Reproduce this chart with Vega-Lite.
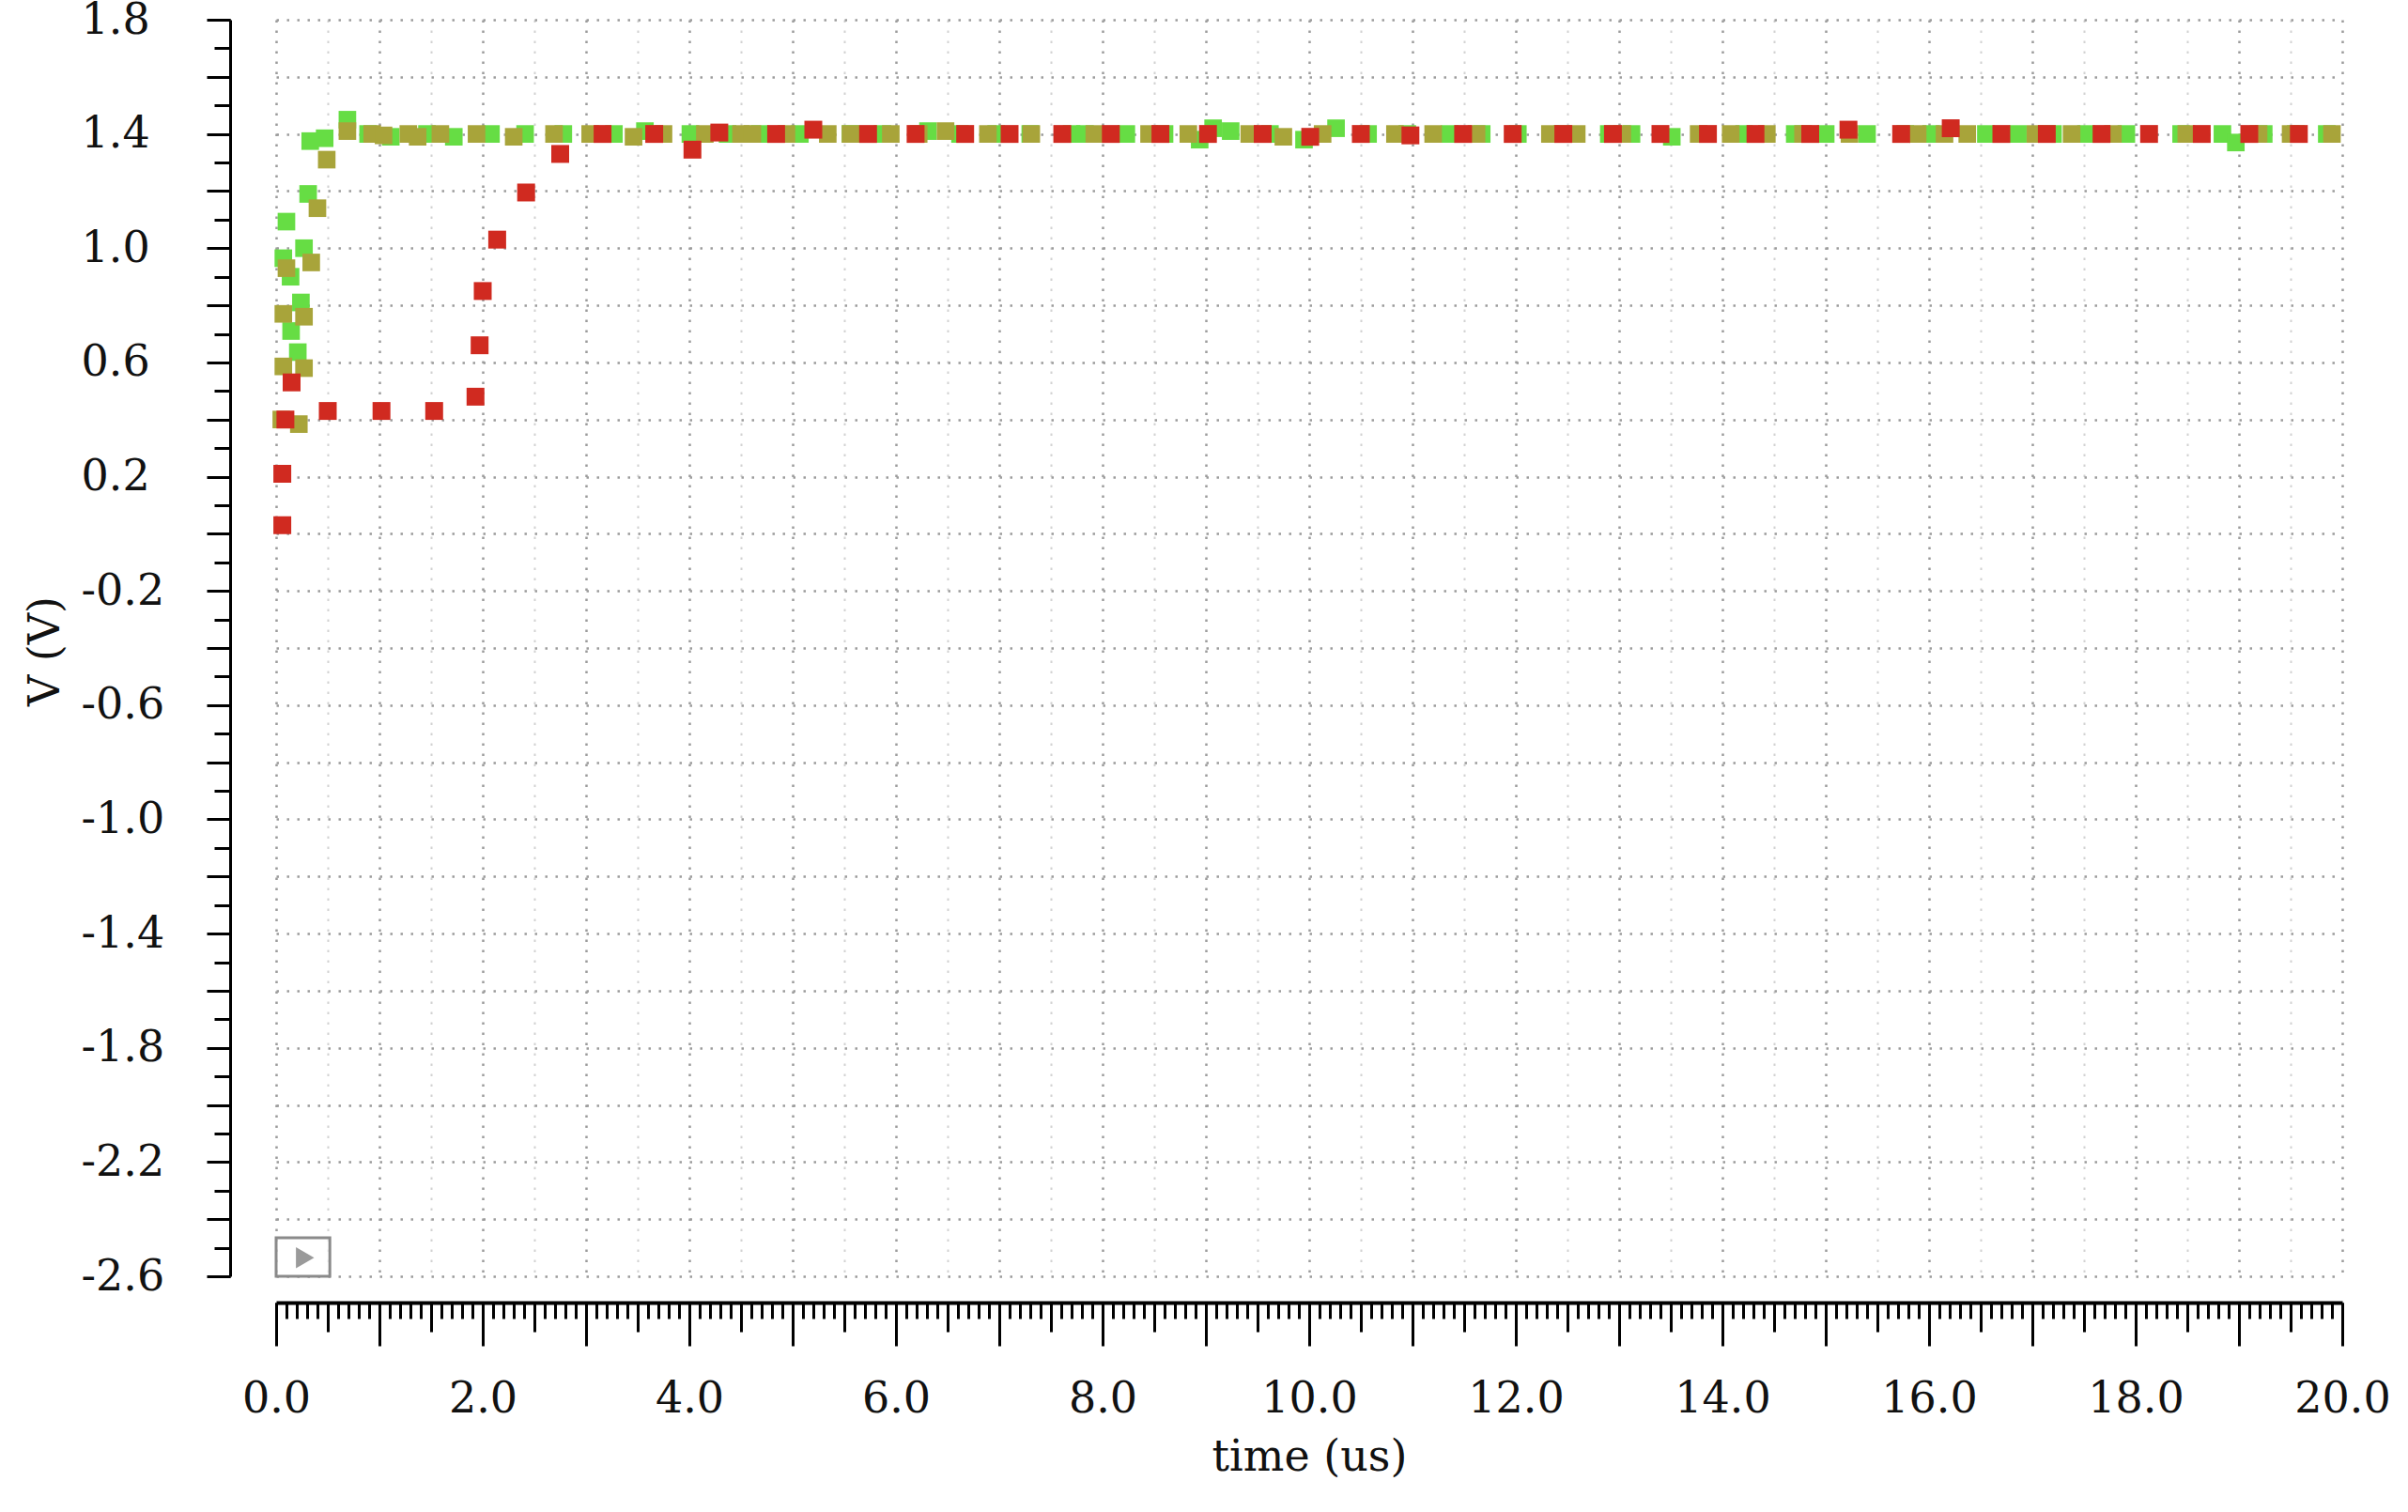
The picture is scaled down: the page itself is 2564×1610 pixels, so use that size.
{
  "$schema": "https://vega.github.io/schema/vega-lite/v6.json",
  "autosize": {"type": "none"},
  "padding": {"left": 294, "top": 21, "right": 70, "bottom": 251},
  "width": 2200,
  "height": 1338,
  "background": "white",
  "config": {
    "view": {"stroke": null},
    "axis": {
      "labelFont": "DejaVu Serif",
      "titleFont": "DejaVu Serif",
      "labelColor": "#111111",
      "titleColor": "#111111",
      "labelFontSize": 46,
      "titleFontSize": 46,
      "titleFontWeight": "normal",
      "tickColor": "#000000",
      "domainColor": "#000000",
      "labelOverlap": false,
      "labelFlush": false
    }
  },
  "datasets": {
    "green": [
      {"t": 0.07, "v": 0.965}, {"t": 0.10, "v": 1.093}, {"t": 0.14, "v": 0.90}, {"t": 0.145, "v": 0.71},
      {"t": 0.21, "v": 0.636}, {"t": 0.24, "v": 0.81}, {"t": 0.27, "v": 1.0}, {"t": 0.31, "v": 1.19},
      {"t": 0.33, "v": 1.375}, {"t": 0.47, "v": 1.385}, {"t": 0.69, "v": 1.45}, {"t": 0.89, "v": 1.40},
      {"t": 1.11, "v": 1.39}, {"t": 1.46, "v": 1.40}, {"t": 1.72, "v": 1.39}, {"t": 2.08, "v": 1.40},
      {"t": 2.41, "v": 1.40}, {"t": 2.78, "v": 1.40}, {"t": 3.27, "v": 1.40}, {"t": 3.57, "v": 1.41},
      {"t": 4.01, "v": 1.40}, {"t": 4.37, "v": 1.40}, {"t": 4.68, "v": 1.40}, {"t": 5.07, "v": 1.40},
      {"t": 5.56, "v": 1.40}, {"t": 5.87, "v": 1.40}, {"t": 6.31, "v": 1.41}, {"t": 6.62, "v": 1.40},
      {"t": 6.97, "v": 1.40}, {"t": 7.30, "v": 1.40}, {"t": 7.70, "v": 1.40}, {"t": 7.83, "v": 1.40},
      {"t": 8.23, "v": 1.40}, {"t": 8.60, "v": 1.40}, {"t": 8.94, "v": 1.38}, {"t": 9.07, "v": 1.42},
      {"t": 9.24, "v": 1.41}, {"t": 9.62, "v": 1.40}, {"t": 9.95, "v": 1.38}, {"t": 10.26, "v": 1.42},
      {"t": 10.57, "v": 1.40}, {"t": 10.95, "v": 1.40}, {"t": 11.36, "v": 1.40}, {"t": 11.67, "v": 1.40},
      {"t": 12.02, "v": 1.40}, {"t": 12.45, "v": 1.40}, {"t": 12.90, "v": 1.40}, {"t": 13.12, "v": 1.40},
      {"t": 13.51, "v": 1.39}, {"t": 14.21, "v": 1.40}, {"t": 14.70, "v": 1.40}, {"t": 15.00, "v": 1.40},
      {"t": 15.40, "v": 1.40}, {"t": 15.77, "v": 1.40}, {"t": 16.02, "v": 1.40}, {"t": 16.55, "v": 1.40},
      {"t": 16.86, "v": 1.40}, {"t": 17.20, "v": 1.40}, {"t": 17.52, "v": 1.40}, {"t": 17.91, "v": 1.40},
      {"t": 18.44, "v": 1.40}, {"t": 18.84, "v": 1.40}, {"t": 18.97, "v": 1.37}, {"t": 19.24, "v": 1.40},
      {"t": 19.55, "v": 1.40}, {"t": 19.85, "v": 1.40}
    ],
    "olive": [
      {"t": 0.05, "v": 0.40}, {"t": 0.22, "v": 0.384}, {"t": 0.07, "v": 0.586}, {"t": 0.27, "v": 0.58},
      {"t": 0.07, "v": 0.77}, {"t": 0.27, "v": 0.76}, {"t": 0.10, "v": 0.93}, {"t": 0.34, "v": 0.95},
      {"t": 0.40, "v": 1.14}, {"t": 0.49, "v": 1.31}, {"t": 0.69, "v": 1.41}, {"t": 0.93, "v": 1.40},
      {"t": 1.04, "v": 1.395}, {"t": 1.28, "v": 1.40}, {"t": 1.37, "v": 1.39}, {"t": 1.59, "v": 1.40},
      {"t": 1.94, "v": 1.40}, {"t": 2.30, "v": 1.39}, {"t": 2.69, "v": 1.40}, {"t": 3.04, "v": 1.40},
      {"t": 3.46, "v": 1.39}, {"t": 3.75, "v": 1.40}, {"t": 4.15, "v": 1.40}, {"t": 4.50, "v": 1.40},
      {"t": 4.61, "v": 1.40}, {"t": 4.94, "v": 1.40}, {"t": 5.34, "v": 1.40}, {"t": 5.56, "v": 1.40},
      {"t": 5.95, "v": 1.40}, {"t": 6.22, "v": 1.40}, {"t": 6.48, "v": 1.41}, {"t": 6.89, "v": 1.40},
      {"t": 7.31, "v": 1.40}, {"t": 7.92, "v": 1.40}, {"t": 8.45, "v": 1.40}, {"t": 8.83, "v": 1.40},
      {"t": 9.42, "v": 1.40}, {"t": 9.75, "v": 1.39}, {"t": 10.13, "v": 1.40}, {"t": 10.83, "v": 1.40},
      {"t": 11.20, "v": 1.40}, {"t": 11.62, "v": 1.40}, {"t": 12.33, "v": 1.40}, {"t": 12.59, "v": 1.40},
      {"t": 13.03, "v": 1.40}, {"t": 13.77, "v": 1.40}, {"t": 14.08, "v": 1.40}, {"t": 14.43, "v": 1.40},
      {"t": 14.78, "v": 1.40}, {"t": 15.23, "v": 1.40}, {"t": 15.89, "v": 1.40}, {"t": 16.15, "v": 1.40},
      {"t": 16.37, "v": 1.40}, {"t": 17.03, "v": 1.40}, {"t": 17.38, "v": 1.40}, {"t": 17.78, "v": 1.40},
      {"t": 18.49, "v": 1.40}, {"t": 19.19, "v": 1.40}, {"t": 19.50, "v": 1.40}, {"t": 19.90, "v": 1.40}
    ],
    "red": [
      {"t": 0.06, "v": 0.03}, {"t": 0.06, "v": 0.21}, {"t": 0.09, "v": 0.40}, {"t": 0.15, "v": 0.53},
      {"t": 0.50, "v": 0.43}, {"t": 1.02, "v": 0.43}, {"t": 1.53, "v": 0.43}, {"t": 1.93, "v": 0.48},
      {"t": 1.97, "v": 0.66}, {"t": 2.00, "v": 0.85}, {"t": 2.14, "v": 1.03}, {"t": 2.42, "v": 1.195},
      {"t": 2.75, "v": 1.33}, {"t": 3.16, "v": 1.40}, {"t": 3.66, "v": 1.40}, {"t": 4.03, "v": 1.345},
      {"t": 4.29, "v": 1.405}, {"t": 4.84, "v": 1.40}, {"t": 5.20, "v": 1.415}, {"t": 5.73, "v": 1.40},
      {"t": 6.19, "v": 1.40}, {"t": 6.67, "v": 1.40}, {"t": 7.10, "v": 1.40}, {"t": 7.61, "v": 1.40},
      {"t": 8.08, "v": 1.40}, {"t": 8.56, "v": 1.40}, {"t": 9.02, "v": 1.40}, {"t": 9.55, "v": 1.40},
      {"t": 10.01, "v": 1.39}, {"t": 10.50, "v": 1.40}, {"t": 10.98, "v": 1.395}, {"t": 11.49, "v": 1.40},
      {"t": 11.97, "v": 1.40}, {"t": 12.46, "v": 1.40}, {"t": 12.94, "v": 1.40}, {"t": 13.40, "v": 1.40},
      {"t": 13.86, "v": 1.40}, {"t": 14.32, "v": 1.40}, {"t": 14.85, "v": 1.40}, {"t": 15.22, "v": 1.415},
      {"t": 15.73, "v": 1.40}, {"t": 16.21, "v": 1.42}, {"t": 16.70, "v": 1.40}, {"t": 17.14, "v": 1.40},
      {"t": 17.67, "v": 1.40}, {"t": 18.13, "v": 1.40}, {"t": 18.64, "v": 1.40}, {"t": 19.10, "v": 1.40},
      {"t": 19.58, "v": 1.40}
    ]
  },
  "resolve": {"axis": {"x": "independent", "y": "independent"}},
  "layer": [
    {
      "data": {"name": "green"},
      "mark": {"type": "point", "shape": "square", "filled": true, "size": 350, "color": "#66dd44", "opacity": 1},
      "encoding": {
        "x": {
          "field": "t", "type": "quantitative",
          "scale": {"domain": [0, 20], "nice": false, "zero": false},
          "axis": {
            "orient": "bottom", "offset": 28,
            "values": [0,1,2,3,4,5,6,7,8,9,10,11,12,13,14,15,16,17,18,19,20],
            "tickSize": 46, "tickWidth": 3, "domainWidth": 4,
            "labelExpr": "datum.value % 2 == 0 ? format(datum.value, '.1f') : ''",
            "labelPadding": 70, "labelBaseline": "alphabetic",
            "grid": true, "gridColor": "#9c9c9c", "gridDash": [2.5, 8.5], "gridWidth": 2.5,
            "title": "time (us)", "titleX": 1100, "titleY": 178, "titleBaseline": "alphabetic", "titleAlign": "center"
          }
        },
        "y": {
          "field": "v", "type": "quantitative",
          "scale": {"domain": [-2.6, 1.8], "nice": false, "zero": false},
          "axis": {
            "orient": "left", "offset": 49,
            "values": [-2.6,-2.4,-2.2,-2.0,-1.8,-1.6,-1.4,-1.2,-1.0,-0.8,-0.6,-0.4,-0.2,0,0.2,0.4,0.6,0.8,1.0,1.2,1.4,1.6,1.8],
            "tickSize": 25, "tickWidth": 3, "domainWidth": 3,
            "labelExpr": "abs(round((datum.value + 2.6) * 10)) % 4 == 0 ? replace(format(datum.value, '.1f'), '\u2212', '-') : ''",
            "labelAlign": "left", "labelPadding": 134, "labelBaseline": "middle",
            "grid": true, "gridColor": "#9c9c9c", "gridDash": [2.5, 8.5], "gridWidth": 2.5,
            "title": "V (V)", "titleX": -183, "titleY": 672, "titleAngle": -90, "titleBaseline": "alphabetic", "titleAlign": "center"
          }
        }
      }
    },
    {
      "data": {"name": "olive"},
      "mark": {"type": "point", "shape": "square", "filled": true, "size": 350, "color": "#a8a43a", "opacity": 1},
      "encoding": {
        "x": {
          "field": "t", "type": "quantitative",
          "scale": {"domain": [0, 20], "nice": false, "zero": false},
          "axis": {
            "orient": "bottom", "offset": 28,
            "values": [0.5,1.5,2.5,3.5,4.5,5.5,6.5,7.5,8.5,9.5,10.5,11.5,12.5,13.5,14.5,15.5,16.5,17.5,18.5,19.5],
            "tickSize": 31, "tickWidth": 3, "domain": false, "labels": false,
            "grid": true, "gridColor": "#d2d2d2", "gridDash": [2.5, 8.5], "gridWidth": 2,
            "title": null
          }
        },
        "y": {
          "field": "v", "type": "quantitative",
          "scale": {"domain": [-2.6, 1.8], "nice": false, "zero": false},
          "axis": {
            "orient": "left", "offset": 49,
            "values": [-2.6,-2.5,-2.4,-2.3,-2.2,-2.1,-2.0,-1.9,-1.8,-1.7,-1.6,-1.5,-1.4,-1.3,-1.2,-1.1,-1.0,-0.9,-0.8,-0.7,-0.6,-0.5,-0.4,-0.3,-0.2,-0.1,0,0.1,0.2,0.3,0.4,0.5,0.6,0.7,0.8,0.9,1.0,1.1,1.2,1.3,1.4,1.5,1.6,1.7,1.8],
            "tickSize": 17, "tickWidth": 3, "domain": false, "labels": false, "grid": false,
            "title": null
          }
        }
      }
    },
    {
      "data": {"name": "red"},
      "mark": {"type": "point", "shape": "square", "filled": true, "size": 361, "color": "#d02a20", "opacity": 1},
      "encoding": {
        "x": {
          "field": "t", "type": "quantitative",
          "scale": {"domain": [0, 20], "nice": false, "zero": false},
          "axis": {
            "orient": "bottom", "offset": 28,
            "values": [0,0.1,0.2,0.3,0.4,0.5,0.6,0.7,0.8,0.9,1,1.1,1.2,1.3,1.4,1.5,1.6,1.7,1.8,1.9,2,2.1,2.2,2.3,2.4,2.5,2.6,2.7,2.8,2.9,3,3.1,3.2,3.3,3.4,3.5,3.6,3.7,3.8,3.9,4,4.1,4.2,4.3,4.4,4.5,4.6,4.7,4.8,4.9,5,5.1,5.2,5.3,5.4,5.5,5.6,5.7,5.8,5.9,6,6.1,6.2,6.3,6.4,6.5,6.6,6.7,6.8,6.9,7,7.1,7.2,7.3,7.4,7.5,7.6,7.7,7.8,7.9,8,8.1,8.2,8.3,8.4,8.5,8.6,8.7,8.8,8.9,9,9.1,9.2,9.3,9.4,9.5,9.6,9.7,9.8,9.9,10,10.1,10.2,10.3,10.4,10.5,10.6,10.7,10.8,10.9,11,11.1,11.2,11.3,11.4,11.5,11.6,11.7,11.8,11.9,12,12.1,12.2,12.3,12.4,12.5,12.6,12.7,12.8,12.9,13,13.1,13.2,13.3,13.4,13.5,13.6,13.7,13.8,13.9,14,14.1,14.2,14.3,14.4,14.5,14.6,14.7,14.8,14.9,15,15.1,15.2,15.3,15.4,15.5,15.6,15.7,15.8,15.9,16,16.1,16.2,16.3,16.4,16.5,16.6,16.7,16.8,16.9,17,17.1,17.2,17.3,17.4,17.5,17.6,17.7,17.8,17.9,18,18.1,18.2,18.3,18.4,18.5,18.6,18.7,18.8,18.9,19,19.1,19.2,19.3,19.4,19.5,19.6,19.7,19.8,19.9,20],
            "tickSize": 17, "tickWidth": 3, "domain": false, "labels": false, "grid": false,
            "title": null
          }
        },
        "y": {
          "field": "v", "type": "quantitative",
          "scale": {"domain": [-2.6, 1.8], "nice": false, "zero": false},
          "axis": null
        }
      }
    },
    {
      "data": {"values": [{}]},
      "mark": {"type": "rect", "fill": "#ffffff", "fillOpacity": 0.6, "stroke": "#8a8a8a", "strokeWidth": 3},
      "encoding": {
        "x": {"datum": 0, "type": "quantitative", "axis": null},
        "x2": {"datum": 0.52},
        "y": {"datum": -2.6, "type": "quantitative", "axis": null},
        "y2": {"datum": -2.465}
      }
    },
    {
      "data": {"values": [{}]},
      "mark": {"type": "point", "shape": "triangle-right", "filled": true, "size": 500, "color": "#9a9a9a", "opacity": 1},
      "encoding": {
        "x": {"datum": 0.28, "type": "quantitative", "axis": null},
        "y": {"datum": -2.535, "type": "quantitative", "axis": null}
      }
    }
  ]
}
